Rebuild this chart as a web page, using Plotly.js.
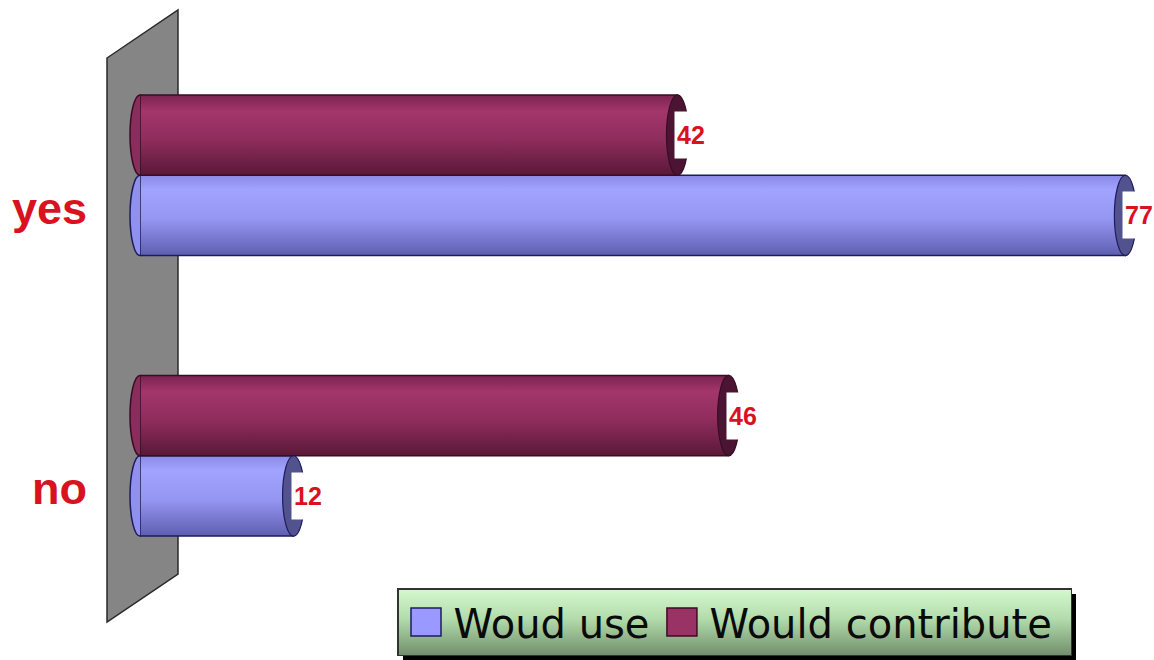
<!DOCTYPE html>
<html><head><meta charset="utf-8">
<script src="https://cdn.plot.ly/plotly-3.0.1.min.js"></script>
<style>html,body{margin:0;padding:0;background:#fff}#chart{width:1154px;height:660px}</style>
</head><body><div id="chart"></div>
<script>
// ---- data ----
const categories = ['no', 'yes'];
const seriesNames = ['Woud use', 'Would contribute'];
const woudUse = [12, 77];
const wouldContribute = [46, 42];

// ---- styling ----
const W = 1154, H = 660;
const M = {l: 140, r: 12, t: 35, b: 64, autoexpand: false};
const xMax = 78.3;
const bargap = 0.427;
const baseColors = ['#9999ff', '#993366'];
const edgeColors = ['#1c1c5c', '#3a0c24'];
const capColors = ['#52528e', '#4a1432'];
const leftCapColors = ['#9090f0', '#8a2c5c'];
const labelRed = '#d8121e';

const pw = W - M.l - M.r, ph = H - M.t - M.b;
const pxPerUnit = pw / xMax;
const pX = px => (px - M.l) / pw;
const pY = py => 1 - (py - M.t) / ph;
const valToPaper = v => pX(M.l + v * pxPerUnit);

const series = [woudUse, wouldContribute];
const groupW = 1 - bargap;
const barW = groupW / 2;
const offsets = [-groupW / 4, groupW / 4];

const traces = series.map((vals, i) => ({
  type: 'bar', orientation: 'h', name: seriesNames[i],
  x: vals, y: categories,
  marker: {color: baseColors[i], line: {color: edgeColors[i], width: 1.5}},
  hoverinfo: 'x+name'
}));

const shapes = [];
// wall
const wall = [[107, 58], [178, 10], [178, 574], [107, 622]];
shapes.push({
  type: 'path', xref: 'paper', yref: 'paper', layer: 'below',
  path: 'M' + wall.map(p => pX(p[0]).toFixed(5) + ',' + pY(p[1]).toFixed(5)).join('L') + 'Z',
  fillcolor: '#858585', line: {color: '#2a2a2a', width: 1.5}
});
const capHalfLeft = 10 / pxPerUnit, capHalfRight = 11 / pxPerUnit;
series.forEach((vals, i) => {
  vals.forEach((v, c) => {
    const yc = c + offsets[i];
    shapes.push({
      type: 'circle', xref: 'paper', yref: 'y', layer: 'below',
      x0: valToPaper(-capHalfLeft), x1: valToPaper(capHalfLeft), y0: yc - barW / 2, y1: yc + barW / 2,
      fillcolor: leftCapColors[i], line: {color: edgeColors[i], width: 1.5}
    });
    shapes.push({
      type: 'circle', xref: 'paper', yref: 'y', layer: 'above',
      x0: valToPaper(v - capHalfRight), x1: valToPaper(v + capHalfRight), y0: yc - barW / 2, y1: yc + barW / 2,
      fillcolor: capColors[i], line: {color: edgeColors[i], width: 1.2}
    });
  });
});

const annotations = [];
series.forEach((vals, i) => {
  vals.forEach((v, c) => {
    annotations.push({
      x: v, y: c + offsets[i], xref: 'x', yref: 'y', xanchor: 'left', yanchor: 'middle',
      text: String(v), showarrow: false, bgcolor: '#ffffff', borderpad: 2, xshift: -3, height: 42,
      font: {family: 'Liberation Sans, Arial, sans-serif', size: 25, color: labelRed, weight: 'bold'}
    });
  });
});
categories.forEach((cat, c) => {
  annotations.push({
    x: pX(89), y: c, xref: 'paper', yref: 'y', xanchor: 'right', yanchor: 'middle',
    yshift: -33, text: cat, showarrow: false,
    font: {family: 'Liberation Sans, Arial, sans-serif', size: 45, color: labelRed, weight: 'bold'}
  });
});

const layout = {
  width: W, height: H, margin: M,
  paper_bgcolor: '#ffffff', plot_bgcolor: 'rgba(0,0,0,0)',
  barmode: 'group', bargap: bargap, bargroupgap: 0,
  xaxis: {range: [0, xMax], showgrid: false, zeroline: false, showticklabels: false, showline: false, ticks: ''},
  yaxis: {type: 'category', range: [-0.5, 1.5], showgrid: false, zeroline: false, showticklabels: false, showline: false, ticks: ''},
  shapes: shapes, annotations: annotations,
  showlegend: true,
  legend: {
    orientation: 'h', x: pX(397), y: pY(588), xanchor: 'left', yanchor: 'top',
    bgcolor: '#b8dcb2', bordercolor: '#333333', borderwidth: 1.5,
    font: {family: 'DejaVu Sans, sans-serif', size: 40, color: '#0a0a0a'},
    traceorder: 'normal', itemwidth: 45
  }
};

Plotly.newPlot('chart', traces, layout, {displayModeBar: false, staticPlot: true}).then(gd => {
  const svg = gd.querySelector('svg.main-svg');
  const ns = 'http://www.w3.org/2000/svg';
  let defs = svg.querySelector('defs');
  const mkGrad = (id, stops) => {
    const g = document.createElementNS(ns, 'linearGradient');
    g.setAttribute('id', id);
    g.setAttribute('x1', '0'); g.setAttribute('y1', '0'); g.setAttribute('x2', '0'); g.setAttribute('y2', '1');
    stops.forEach(([o, c]) => {
      const s = document.createElementNS(ns, 'stop');
      s.setAttribute('offset', o); s.setAttribute('stop-color', c);
      g.appendChild(s);
    });
    defs.appendChild(g);
  };
  mkGrad('gUse', [[0, '#8a8ae6'], [0.18, '#a2a2ff'], [0.55, '#9595f2'], [1, '#5e5eb0']]);
  mkGrad('gCon', [[0, '#7a2450'], [0.2, '#a3366a'], [0.55, '#8f2d5d'], [1, '#5a1838']]);
  mkGrad('gLeg', [[0, '#d6f8d0'], [0.45, '#b2dcab'], [1, '#728f6d']]);
  const ids = ['gUse', 'gCon'];
  gd.querySelectorAll('.barlayer .trace').forEach((t, i) => {
    t.querySelectorAll('path').forEach(p => { p.style.fill = 'url(#' + ids[i] + ')'; });
  });
  const leg = gd.querySelector('.legend');
  if (leg) {
    const bg = leg.querySelector('rect.bg');
    if (bg) {
      const w = parseFloat(bg.getAttribute('width'));
      if (isFinite(w)) bg.setAttribute('width', w + 13);
      bg.style.fill = 'url(#gLeg)';
      const sh = bg.cloneNode(false);
      sh.setAttribute('class', 'shadow');
      sh.style.fill = '#000'; sh.style.stroke = 'none';
      sh.setAttribute('transform', 'translate(5,5)');
      bg.parentNode.insertBefore(sh, bg);
    }
    leg.querySelectorAll('.legendpoints path').forEach(p => {
      p.setAttribute('d', 'M15,14H-15V-14H15Z');
    });
  }
});
</script>
</body></html>
